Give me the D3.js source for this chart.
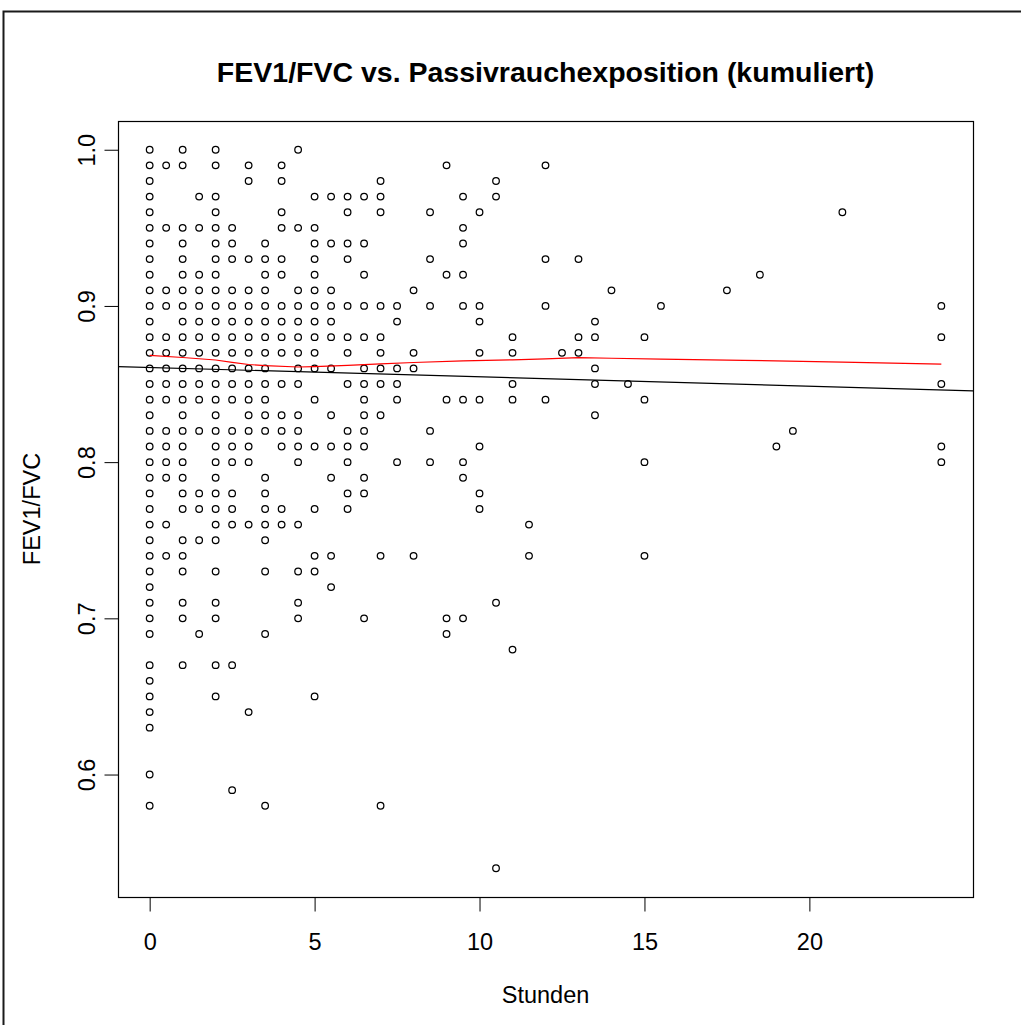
<!DOCTYPE html>
<html>
<head>
<meta charset="utf-8">
<script src="https://cdn.jsdelivr.net/npm/d3@7"></script>
<style>
  html, body { margin: 0; padding: 0; background: #fff; }
  svg { display: block; }
  text { font-family: "Liberation Sans", Arial, sans-serif; fill: #000; }
</style>
</head>
<body>
<svg id="chart" width="1021" height="1025"></svg>
<script>
// Cumulative passive-smoke exposure (hours) at which measurements were taken
const hours = [0, 0.5, 1, 1.5, 2, 2.5, 3, 3.5, 4, 4.5, 5, 5.5, 6, 6.5, 7, 7.5, 8, 8.5,
  9, 9.5, 10, 10.5, 11, 11.5, 12, 12.5, 13, 13.5, 14, 14.5, 15, 15.5, 17.5, 18.5, 19, 19.5, 21, 24];

// FEV1/FVC ratios observed at each exposure level (same order as `hours`)
const ratios = [
  [1.00,0.99,0.98,0.97,0.96,0.95,0.94,0.93,0.92,0.91,0.90,0.89,0.88,0.87,0.86,0.85,0.84,0.83,0.82,0.81,0.80,0.79,0.78,0.77,0.76,0.75,0.74,0.73,0.72,0.71,0.70,0.69,0.67,0.66,0.65,0.64,0.63,0.60,0.58],
  [0.99,0.95,0.91,0.90,0.88,0.87,0.86,0.85,0.84,0.82,0.81,0.80,0.79,0.76,0.74],
  [1.00,0.99,0.95,0.94,0.93,0.92,0.91,0.90,0.89,0.88,0.87,0.86,0.85,0.84,0.83,0.82,0.81,0.80,0.79,0.78,0.77,0.75,0.74,0.73,0.71,0.70,0.67],
  [0.97,0.95,0.92,0.91,0.90,0.89,0.88,0.87,0.86,0.85,0.84,0.82,0.78,0.77,0.75,0.69],
  [1.00,0.99,0.97,0.96,0.95,0.94,0.93,0.92,0.91,0.90,0.89,0.88,0.87,0.86,0.85,0.84,0.83,0.82,0.81,0.80,0.79,0.78,0.77,0.76,0.75,0.73,0.71,0.70,0.67,0.65],
  [0.95,0.94,0.93,0.91,0.90,0.89,0.88,0.87,0.86,0.85,0.84,0.82,0.81,0.80,0.78,0.77,0.76,0.67,0.59],
  [0.99,0.98,0.93,0.91,0.90,0.89,0.88,0.87,0.86,0.85,0.84,0.83,0.82,0.81,0.80,0.76,0.64],
  [0.94,0.93,0.92,0.91,0.90,0.89,0.88,0.87,0.86,0.85,0.84,0.83,0.82,0.79,0.78,0.77,0.76,0.75,0.73,0.69,0.58],
  [0.99,0.98,0.96,0.95,0.93,0.92,0.90,0.89,0.88,0.87,0.85,0.83,0.82,0.81,0.77,0.76],
  [1.00,0.95,0.91,0.90,0.89,0.88,0.87,0.86,0.85,0.83,0.82,0.81,0.80,0.76,0.73,0.71,0.70],
  [0.97,0.95,0.94,0.93,0.92,0.91,0.90,0.89,0.88,0.87,0.86,0.84,0.81,0.77,0.74,0.73,0.65],
  [0.97,0.94,0.91,0.90,0.89,0.88,0.86,0.83,0.81,0.79,0.74,0.72],
  [0.97,0.96,0.94,0.93,0.90,0.88,0.87,0.85,0.82,0.81,0.80,0.78,0.77],
  [0.97,0.94,0.92,0.90,0.88,0.86,0.85,0.84,0.83,0.82,0.81,0.79,0.78,0.70],
  [0.98,0.97,0.96,0.90,0.88,0.87,0.86,0.85,0.83,0.74,0.58],
  [0.90,0.89,0.86,0.85,0.84,0.80],
  [0.91,0.87,0.86,0.74],
  [0.96,0.93,0.90,0.82,0.80],
  [0.99,0.92,0.84,0.70,0.69],
  [0.97,0.95,0.94,0.92,0.90,0.84,0.80,0.79,0.70],
  [0.96,0.90,0.89,0.87,0.84,0.81,0.78,0.77],
  [0.98,0.97,0.71,0.54],
  [0.88,0.87,0.85,0.84,0.68],
  [0.76,0.74],
  [0.99,0.93,0.90,0.84],
  [0.87],
  [0.93,0.88,0.87],
  [0.89,0.88,0.86,0.85,0.83],
  [0.91],
  [0.85],
  [0.88,0.84,0.80,0.74],
  [0.90],
  [0.91],
  [0.92],
  [0.81],
  [0.82],
  [0.96],
  [0.90,0.88,0.85,0.81,0.80]
];

// Local smoother (lowess) through the cloud
const smoothHours = [0, 1, 2, 2.5, 3, 3.5, 4.5, 5, 6, 7, 8, 9.5, 11, 12, 13, 14, 15.5, 18, 21, 24];
const smoothRatio = [0.8684, 0.8670, 0.8654, 0.8639, 0.8625, 0.8618, 0.8609, 0.8612, 0.8620, 0.8629,
  0.8638, 0.8648, 0.8655, 0.8661, 0.8669, 0.8665, 0.8660, 0.8652, 0.8640, 0.8628];

// Linear fit (intercept, slope per hour)
const fitIntercept = 0.8606;
const fitSlope = -0.0006;

const xTicks = [0, 5, 10, 15, 20];
const yTicks = [0.6, 0.7, 0.8, 0.9, 1.0];

const titleText = "FEV1/FVC vs. Passivrauchexposition (kumuliert)";
const xLabel = "Stunden";
const yLabel = "FEV1/FVC";

// ---- layout ----
const box = { left: 118, right: 973, top: 121, bottom: 897 };

const points = [];
hours.forEach((h, i) => ratios[i].forEach(r => points.push({ h, r })));

// axis ranges padded by 4% on both sides
function padded(ext) {
  const d = (ext[1] - ext[0]) * 0.04;
  return [ext[0] - d, ext[1] + d];
}
const x = d3.scaleLinear()
  .domain(padded(d3.extent(points, d => d.h)))
  .range([box.left, box.right]);
const y = d3.scaleLinear()
  .domain(padded(d3.extent(points, d => d.r)))
  .range([box.bottom, box.top]);

const svg = d3.select("#chart");

// outer frame
svg.append("path")
  .attr("d", "M3.5,1030 V11.5 H1030")
  .attr("fill", "none")
  .attr("stroke", "#1a1a1a")
  .attr("stroke-width", 2);

// title
svg.append("text")
  .attr("x", (box.left + box.right) / 2)
  .attr("y", 82)
  .attr("text-anchor", "middle")
  .attr("font-weight", "bold")
  .attr("font-size", 28.5)
  .text(titleText);

// clip region for lines
svg.append("clipPath").attr("id", "plotclip")
  .append("rect")
  .attr("x", box.left).attr("y", box.top)
  .attr("width", box.right - box.left).attr("height", box.bottom - box.top);

// points
svg.append("g")
  .selectAll("circle")
  .data(points)
  .join("circle")
  .attr("cx", d => x(d.h))
  .attr("cy", d => y(d.r))
  .attr("r", 3.3)
  .attr("fill", "none")
  .attr("stroke", "#000")
  .attr("stroke-width", 1.25);

// regression line across the full plot width
const xd = x.domain();
svg.append("line")
  .attr("clip-path", "url(#plotclip)")
  .attr("x1", x(xd[0])).attr("y1", y(fitIntercept + fitSlope * xd[0]))
  .attr("x2", x(xd[1])).attr("y2", y(fitIntercept + fitSlope * xd[1]))
  .attr("stroke", "#000")
  .attr("stroke-width", 1.2);

// smoother
svg.append("path")
  .datum(smoothHours.map((h, i) => [h, smoothRatio[i]]))
  .attr("d", d3.line().x(d => x(d[0])).y(d => y(d[1])))
  .attr("fill", "none")
  .attr("stroke", "#ff0000")
  .attr("stroke-width", 1.2);

// plot box
svg.append("rect")
  .attr("x", box.left + 0.5).attr("y", box.top + 0.5)
  .attr("width", box.right - box.left).attr("height", box.bottom - box.top)
  .attr("fill", "none")
  .attr("stroke", "#000")
  .attr("stroke-width", 1.2);

// x axis
const xAxis = svg.append("g")
  .attr("transform", `translate(0,${box.bottom + 0.5})`)
  .call(d3.axisBottom(x).tickValues(xTicks).tickSize(14).tickPadding(22).tickFormat(d3.format("d")));
xAxis.select(".domain")
  .attr("d", `M${x(xTicks[0])},0H${x(xTicks[xTicks.length - 1])}`);
xAxis.selectAll("text")
  .attr("font-size", 23.5)
  .attr("font-family", "Liberation Sans, Arial, sans-serif");

// y axis with labels turned parallel to the axis
const yAxis = svg.append("g")
  .attr("transform", `translate(${box.left + 0.5},0)`)
  .call(d3.axisLeft(y).tickValues(yTicks).tickSize(14).tickFormat(d3.format(".1f")));
yAxis.select(".domain")
  .attr("d", `M0,${y(yTicks[0])}V${y(yTicks[yTicks.length - 1])}`);
yAxis.selectAll(".tick text")
  .attr("font-size", 23.5)
  .attr("font-family", "Liberation Sans, Arial, sans-serif")
  .attr("text-anchor", "middle")
  .attr("dy", 0)
  .attr("x", 0)
  .attr("transform", "translate(-24,0) rotate(-90)");
svg.selectAll(".tick line, .domain").attr("stroke", "#000");

// axis titles
svg.append("text")
  .attr("x", (box.left + box.right) / 2)
  .attr("y", 1003)
  .attr("text-anchor", "middle")
  .attr("font-size", 23.5)
  .text(xLabel);

svg.append("text")
  .attr("transform", `translate(40,${(box.top + box.bottom) / 2}) rotate(-90)`)
  .attr("text-anchor", "middle")
  .attr("font-size", 23.5)
  .text(yLabel);
</script>
</body>
</html>
